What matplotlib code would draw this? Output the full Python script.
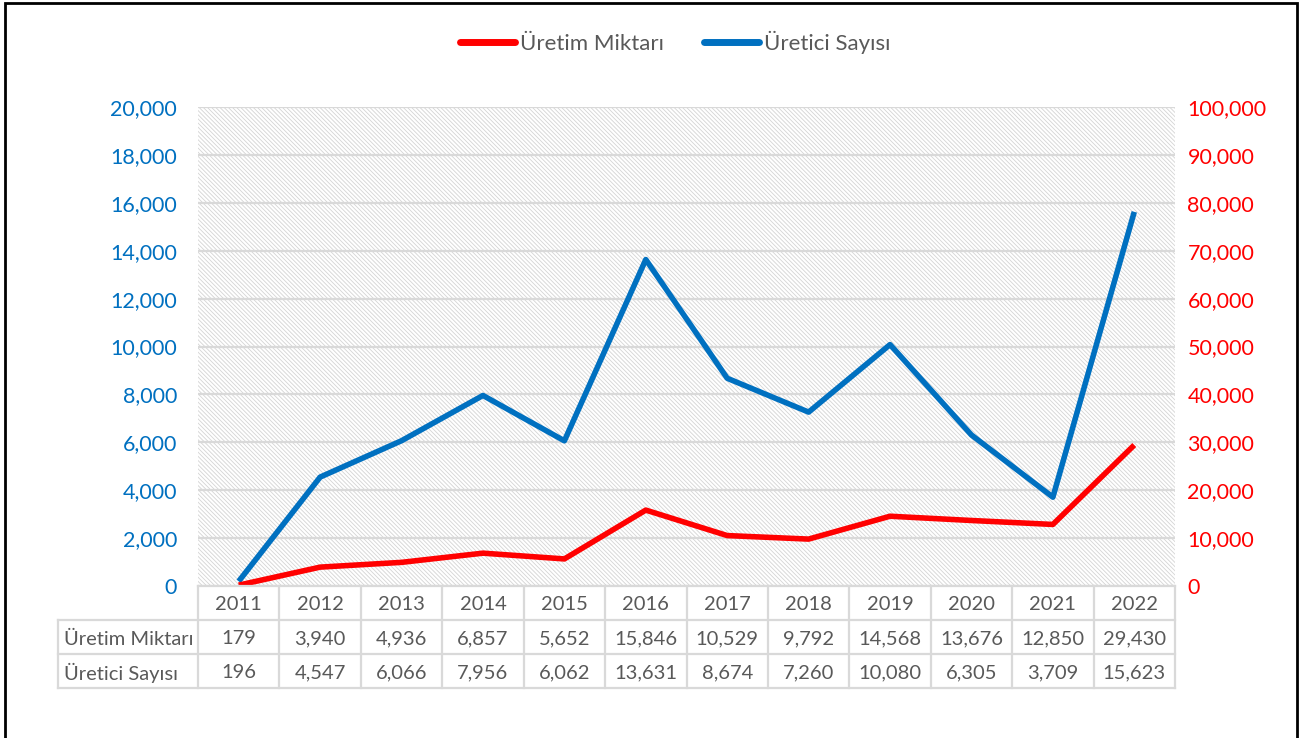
import matplotlib
matplotlib.use("Agg")
import matplotlib.pyplot as plt
from matplotlib.lines import Line2D
from matplotlib.patches import Rectangle
from matplotlib.ticker import FuncFormatter

plt.rcParams['font.family'] = ['Lato', 'DejaVu Sans']
plt.rcParams['hatch.linewidth'] = 0.6
plt.rcParams['hatch.color'] = '#d4d4d4'

years = ['2011', '2012', '2013', '2014', '2015', '2016',
         '2017', '2018', '2019', '2020', '2021', '2022']
uretim_miktari = [179, 3940, 4936, 6857, 5652, 15846, 10529, 9792, 14568, 13676, 12850, 29430]
uretici_sayisi = [196, 4547, 6066, 7956, 6062, 13631, 8674, 7260, 10080, 6305, 3709, 15623]
row_labels = ['Üretim Miktarı', 'Üretici Sayısı']

RED = '#FF0000'
BLUE = '#0070C0'
GRID = '#d9d9d9'
TXT = '#595959'

W, H = 1303, 738
fig = plt.figure(figsize=(W / 100, H / 100), dpi=100)

def fx(px):
    return px / W

def fy(py):
    return 1 - py / H

left_px, right_px, top_px, bot_px = 198, 1175, 107, 586
ax = fig.add_axes([fx(left_px), fy(bot_px), fx(right_px - left_px), fy(top_px) - fy(bot_px)])
ax2 = ax.twinx()

x = list(range(len(years)))
ax.set_xlim(-0.5, len(years) - 0.5)
ax.set_ylim(0, 20000)
ax2.set_ylim(0, 100000)

# hatched plot area background
ax.add_patch(Rectangle((0, 0), 1, 1, transform=ax.transAxes, facecolor='white',
                       edgecolor='#d4d4d4', hatch='\\' * 8, linewidth=0, zorder=0))
ax.set_yticks(range(0, 20001, 2000))
ax2.set_yticks(range(0, 100001, 10000))
for t in range(0, 20001, 2000):
    ax.axhline(t, color=GRID, lw=1.6, zorder=1)

ax.plot(x, uretici_sayisi, color=BLUE, lw=4, solid_capstyle='butt', zorder=3)
ax2.plot(x, uretim_miktari, color=RED, lw=4, solid_capstyle='butt', zorder=3)

fmt = FuncFormatter(lambda v, p: f'{int(v):,}')
ax.yaxis.set_major_formatter(fmt)
ax2.yaxis.set_major_formatter(fmt)
ax.tick_params(axis='y', length=0, labelsize=15.5, colors=BLUE, pad=15)
ax2.tick_params(axis='y', length=0, labelsize=15.5, colors=RED, pad=9)
ax.set_xticks([])
for a in (ax, ax2):
    for s in a.spines.values():
        s.set_visible(False)

# data table below the plot
col_w = (right_px - left_px) / len(years)
row_y = [586, 620, 654, 688]
lab_left = 58
lkw = dict(color=GRID, lw=1.6, transform=fig.transFigure)
fig.add_artist(Line2D([fx(left_px), fx(right_px)], [fy(row_y[0])] * 2, **lkw))
for yy in row_y[1:]:
    fig.add_artist(Line2D([fx(lab_left), fx(right_px)], [fy(yy)] * 2, **lkw))
for i in range(len(years) + 1):
    xx = left_px + i * col_w
    fig.add_artist(Line2D([fx(xx)] * 2, [fy(row_y[0]), fy(row_y[3])], **lkw))
fig.add_artist(Line2D([fx(lab_left)] * 2, [fy(row_y[1]), fy(row_y[3])], **lkw))

rows = [years, [f'{v:,}' for v in uretim_miktari], [f'{v:,}' for v in uretici_sayisi]]
for r, vals in enumerate(rows):
    cy = (row_y[r] + row_y[r + 1]) / 2 + 2
    for i, v in enumerate(vals):
        cx = left_px + (i + 0.5) * col_w
        fig.text(fx(cx), fy(cy), v, ha='center', va='center', fontsize=14.5, color=TXT)
    if r > 0:
        fig.text(fx(lab_left + 6), fy(cy), row_labels[r - 1], ha='left', va='center',
                 fontsize=14.5, color=TXT)

# legend
handles = [Line2D([], [], color=RED, lw=5, solid_capstyle='round'),
           Line2D([], [], color=BLUE, lw=5, solid_capstyle='round')]
fig.legend(handles, row_labels, loc='center', bbox_to_anchor=(fx(675), fy(42)), ncol=2,
           frameon=False, fontsize=16, labelcolor=TXT, handlelength=2.5,
           handletextpad=0.2, columnspacing=1.8)

# outer border
fig.add_artist(Rectangle((fx(5), fy(745)), fx(1297 - 5), fy(3) - fy(745), fill=False,
                         edgecolor='black', lw=2, transform=fig.transFigure))

fig.savefig('out.png', dpi=100)
